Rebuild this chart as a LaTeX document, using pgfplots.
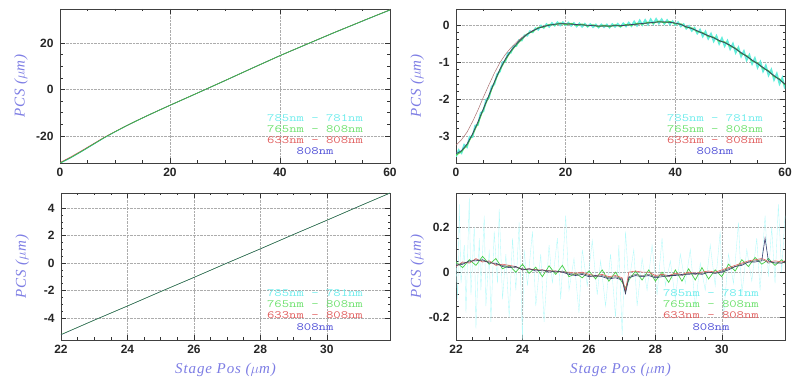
\documentclass[border=0pt]{standalone}
\usepackage{fontspec}
\setmainfont{Liberation Serif}
\setsansfont{Liberation Sans}
\newfontfamily\labfont[LetterSpace=6]{Liberation Serif}
\usepackage{graphicx}
\usepackage{pgfplots}
\usepackage{pgfplotstable}
\pgfplotsset{compat=1.18}

\definecolor{ccyan}{RGB}{100,238,220}
\definecolor{ccyanl}{RGB}{180,250,250}
\definecolor{cgreen}{RGB}{70,205,70}
\definecolor{cred}{RGB}{225,95,95}
\definecolor{cblue}{RGB}{55,60,110}
\definecolor{lcyan}{RGB}{110,236,236}
\definecolor{lgreen}{RGB}{110,225,110}
\definecolor{lred}{RGB}{225,95,95}
\definecolor{lblue}{RGB}{80,80,215}
\definecolor{labcol}{RGB}{125,125,228}

% top-left: x, cyan, green, red, blue
\pgfplotstableread{
x c g r b
0 -31.80 -31.64 -31.40 -31.60
2 -29.35 -29.21 -28.90 -29.20
4 -26.60 -26.48 -26.20 -26.45
6 -23.75 -23.62 -23.40 -23.60
8 -20.85 -20.76 -20.60 -20.75
10 -18.25 -18.16 -18.10 -18.16
12 -15.75 -15.70 -15.68 -15.70
14 -13.40 -13.36 -13.35 -13.36
16 -11.15 -11.11 -11.10 -11.11
18 -8.95 -8.93 -8.93 -8.93
20 -6.80 -6.79 -6.79 -6.79
25 -1.55 -1.51 -1.51 -1.51
30 3.80 3.82 3.82 3.82
35 9.25 9.22 9.22 9.22
40 14.55 14.55 14.55 14.55
42 16.55 16.58 16.58 16.58
45 19.55 19.60 19.60 19.60
48 22.55 22.61 22.61 22.61
50 24.55 24.61 24.61 24.61
52 26.48 26.54 26.54 26.54
54 28.40 28.47 28.47 28.47
56 30.35 30.41 30.41 30.41
58 32.25 32.31 32.31 32.31
60 34.10 34.22 34.22 34.22
}\tlTable

% top-right: x, blue(main), green, red
\pgfplotstableread{
x b g r
0 -3.48 -3.52 -3.25
1 -3.40 -3.42 -3.10
2 -3.22 -3.25 -2.90
3 -2.95 -2.97 -2.62
4 -2.62 -2.66 -2.30
5 -2.26 -2.28 -1.95
6 -1.90 -1.93 -1.62
7 -1.54 -1.56 -1.30
8 -1.20 -1.22 -1.02
9 -0.92 -0.95 -0.80
10 -0.70 -0.72 -0.62
11 -0.52 -0.54 -0.47
12 -0.37 -0.39 -0.34
13 -0.25 -0.24 -0.24
14 -0.16 -0.18 -0.15
15 -0.09 -0.07 -0.08
16 -0.04 -0.06 -0.03
17 -0.01 0.01 0.00
18 0.02 0.00 0.02
19 0.03 0.05 0.03
20 0.03 0.01 0.03
21 0.02 0.04 0.02
22 0.01 -0.01 0.01
23 0.00 0.02 0.00
24 -0.01 -0.03 -0.01
25 -0.02 0.00 -0.02
26 -0.03 -0.05 -0.03
27 -0.03 -0.01 -0.03
28 -0.03 -0.05 -0.03
29 -0.02 0.00 -0.02
30 -0.02 -0.04 -0.02
31 -0.01 0.01 -0.01
32 0.01 -0.01 0.01
33 0.02 0.04 0.02
34 0.04 0.02 0.04
35 0.05 0.07 0.05
36 0.07 0.05 0.07
37 0.08 0.10 0.08
38 0.08 0.06 0.08
39 0.07 0.09 0.07
40 0.05 0.03 0.05
41 0.01 0.03 0.01
42 -0.05 -0.07 -0.05
43 -0.10 -0.08 -0.10
44 -0.16 -0.18 -0.16
45 -0.23 -0.21 -0.23
46 -0.29 -0.31 -0.29
47 -0.35 -0.33 -0.35
48 -0.42 -0.44 -0.42
49 -0.48 -0.46 -0.48
50 -0.55 -0.57 -0.55
51 -0.65 -0.63 -0.65
52 -0.75 -0.77 -0.75
53 -0.85 -0.83 -0.85
54 -0.95 -0.97 -0.95
55 -1.05 -1.03 -1.05
56 -1.15 -1.17 -1.15
57 -1.26 -1.24 -1.26
58 -1.37 -1.39 -1.37
59 -1.48 -1.46 -1.48
60 -1.60 -1.62 -1.60
}\trTable

% top-right cyan
\pgfplotstableread{
x c
0 -3.56
0.5 -3.38
1 -3.46
1.5 -3.24
2 -3.30
2.5 -3.02
3 -3.03
3.5 -2.72
4 -2.70
4.5 -2.38
5 -2.33
5.5 -2.02
6 -1.97
6.5 -1.67
7 -1.60
7.5 -1.33
8 -1.26
8.5 -1.01
9 -0.98
9.5 -0.76
10 -0.75
10.5 -0.57
11 -0.57
11.5 -0.41
12 -0.42
12.5 -0.28
13 -0.29
13.5 -0.17
14 -0.20
14.5 -0.09
15 -0.13
15.5 -0.02
16 -0.08
16.5 0.02
17 -0.05
17.5 0.05
18 -0.02
18.5 0.07
19 -0.01
19.5 0.07
20 -0.01
20.5 0.06
21 -0.02
21.5 0.05
22 -0.04
22.5 0.04
23 -0.05
23.5 0.03
24 -0.05
24.5 0.02
25 -0.06
25.5 0.01
26 -0.07
26.5 0.01
27 -0.06
27.5 0.01
28 -0.07
28.5 0.02
29 -0.05
29.5 0.03
30 -0.05
30.5 0.04
31 -0.04
31.5 0.06
32 -0.03
32.5 0.09
33 -0.02
33.5 0.12
34 0.00
34.5 0.13
35 0.01
35.5 0.15
36 0.03
36.5 0.16
37 0.04
37.5 0.15
38 0.03
38.5 0.13
39 0.02
39.5 0.10
40 0.00
40.5 0.07
41 -0.04
41.5 0.02
42 -0.10
42.5 -0.03
43 -0.16
43.5 -0.08
44 -0.23
44.5 -0.13
45 -0.31
45.5 -0.18
46 -0.37
46.5 -0.24
47 -0.44
47.5 -0.30
48 -0.51
48.5 -0.36
49 -0.57
49.5 -0.43
50 -0.65
50.5 -0.51
51 -0.75
51.5 -0.61
52 -0.85
52.5 -0.71
53 -0.95
53.5 -0.81
54 -1.05
54.5 -0.90
55 -1.15
55.5 -1.00
56 -1.25
56.5 -1.10
57 -1.36
57.5 -1.21
58 -1.48
58.5 -1.32
59 -1.59
59.5 -1.43
60 -1.72
}\trCyan

% bottom-left
\pgfplotstableread{
x g b
22 -5.20 -5.22
23 -4.16 -4.15
24 -3.12 -3.13
25 -2.08 -2.07
26 -1.04 -1.05
27 0.00 0.01
28 1.04 1.03
29 2.08 2.09
30 3.12 3.11
31 4.16 4.17
31.9 5.10 5.09
}\blTable

% bottom-right: x, main, green, red, blue
\pgfplotstableread{
x m g r b
22.0 0.030 0.045 0.025 0.030
22.2 0.040 0.020 0.045 0.035
22.4 0.045 0.055 0.040 0.050
22.6 0.055 0.030 0.060 0.050
22.8 0.050 0.070 0.045 0.055
23.0 0.045 0.035 0.050 0.040
23.2 0.035 0.060 0.030 0.040
23.4 0.030 0.015 0.035 0.025
23.6 0.025 0.030 0.030 0.020
23.8 0.020 0.000 0.025 0.025
24.0 0.015 0.035 0.010 0.010
24.2 0.010 -0.005 0.015 0.015
24.4 0.012 0.022 0.010 0.005
24.6 0.005 -0.020 0.010 0.010
24.8 0.008 0.028 0.005 0.000
25.0 0.000 -0.010 0.005 0.005
25.2 0.005 0.030 0.000 0.000
25.4 -0.005 -0.020 0.000 -0.010
25.6 -0.010 -0.005 -0.005 -0.015
25.8 -0.005 -0.025 0.000 -0.010
26.0 -0.015 0.005 -0.010 -0.020
26.2 -0.020 -0.030 -0.015 -0.015
26.4 -0.015 0.010 -0.010 -0.020
26.6 -0.025 -0.040 -0.020 -0.030
26.8 -0.020 0.000 -0.015 -0.025
27.0 -0.030 -0.045 -0.025 -0.035
27.1 -0.090 -0.070 -0.080 -0.095
27.2 -0.020 -0.035 0.000 -0.025
27.4 -0.010 0.005 0.005 -0.015
27.6 -0.015 -0.035 0.000 -0.020
27.8 -0.010 0.010 0.000 -0.015
28.0 -0.020 -0.040 -0.015 -0.025
28.2 -0.015 0.000 -0.010 -0.020
28.4 -0.020 -0.045 -0.015 -0.015
28.6 -0.010 0.010 -0.005 -0.015
28.8 -0.015 -0.040 -0.010 -0.010
29.0 -0.005 0.015 0.000 -0.010
29.2 -0.010 -0.035 -0.005 -0.005
29.4 -0.005 0.020 0.000 -0.010
29.6 0.000 -0.030 0.005 0.000
29.8 -0.005 0.010 0.000 -0.005
30.0 0.005 -0.020 0.010 0.000
30.2 0.015 0.035 0.020 0.010
30.4 0.025 0.005 0.030 0.025
30.6 0.035 0.055 0.040 0.030
30.8 0.045 0.025 0.050 0.045
31.0 0.050 0.065 0.055 0.045
31.2 0.055 0.035 0.060 0.050
31.3 0.050 0.045 0.055 0.150
31.4 0.040 0.060 0.045 0.050
31.6 0.045 0.030 0.050 0.040
31.8 0.040 0.055 0.045 0.040
31.9 0.045 0.040 0.050 0.045
}\brTable

\pgfplotstableread{
x c
22.00 0.05
22.05 -0.12
22.10 0.30
22.15 -0.05
22.25 0.12
22.30 -0.18
22.40 0.33
22.45 -0.10
22.55 0.20
22.60 -0.25
22.70 0.15
22.75 -0.08
22.85 0.25
22.90 -0.15
23.00 0.10
23.05 -0.22
23.15 0.18
23.25 -0.05
23.30 0.28
23.40 -0.12
23.50 0.08
23.60 -0.20
23.70 0.15
23.80 -0.08
23.90 0.22
24.00 -0.30
24.05 0.10
24.15 -0.06
24.30 0.18
24.40 -0.15
24.55 0.08
24.65 -0.22
24.80 0.12
24.90 -0.05
25.05 0.15
25.15 -0.12
25.30 0.25
25.40 -0.08
25.55 0.06
25.70 -0.18
25.80 0.10
25.95 -0.06
26.10 0.14
26.25 -0.10
26.35 0.05
26.50 -0.15
26.65 0.08
26.80 -0.20
26.90 0.12
27.00 -0.28
27.10 0.18
27.20 -0.05
27.35 0.10
27.45 -0.15
27.60 0.06
27.75 -0.08
27.90 0.12
28.05 -0.10
28.20 0.15
28.30 -0.06
28.45 0.05
28.60 -0.12
28.75 0.08
28.90 -0.05
29.05 0.10
29.20 -0.15
29.35 0.04
29.50 -0.08
29.65 0.12
29.80 -0.06
29.95 0.18
30.05 -0.20
30.20 0.08
30.35 -0.05
30.50 0.22
30.60 -0.10
30.75 0.10
30.90 -0.04
31.05 0.15
31.15 -0.08
31.30 0.25
31.40 -0.02
31.50 0.20
31.60 -0.05
31.70 0.30
31.80 0.00
31.90 0.25
}\brCyan

\tikzset{legtext/.style={font=\ttfamily\fontsize{11}{11.2}\selectfont, align=center, inner sep=0pt, anchor=south}}

\pgfplotsset{
  pcs/.style={
    scale only axis,
    axis line style={black!75, line width=0.9pt},
    tick style={black!80, line width=0.6pt},
    tick align=inside,
    major tick length=5pt,
    minor tick length=2.5pt,
    grid=major,
    major grid style={gray!65, densely dotted, line width=0.5pt},
    ticklabel style={font=\sffamily\bfseries\fontsize{12}{12}\selectfont, black!85},
    /pgf/number format/assume math mode=true,
    xticklabel style={yshift=-2pt},
    yticklabel style={xshift=-3pt},
    ylabel={\labfont\itshape PCS ($\mu$m)},
    ylabel style={at={(axis description cs:-0.118,0.5)}, anchor=center, rotate=0, font=\fontsize{15}{15}\selectfont, text=labcol},
    xlabel style={at={(axis description cs:0.5,-0.2)}, anchor=center, font=\fontsize{15}{15}\selectfont, text=labcol},
  },
}

\newcommand{\legendblock}{%
  \scalebox{1.3}[1]{\textcolor{lcyan}{785nm - 781nm}}\\
  \scalebox{1.3}[1]{\textcolor{lgreen}{765nm - 808nm}}\\
  \scalebox{1.3}[1]{\textcolor{lred}{633nm - 808nm}}\\
  \scalebox{1.3}[1]{\textcolor{lblue}{808nm}}}

\begin{document}
\begin{tikzpicture}
\path[use as bounding box] (0,0) rectangle (792pt,385pt);

% top-left
\begin{axis}[pcs, at={(60pt,222pt)}, anchor=south west,
  width=330pt, height=154pt,
  xmin=0, xmax=60, ymin=-31.6, ymax=34.6,
  xtick={0,20,40,60}, minor x tick num=3,
  ytick={-20,0,20}, minor y tick num=3]
\addplot[ccyan, line width=0.8pt] table[x=x,y=c] {\tlTable};
\addplot[cred, line width=0.5pt] table[x=x,y=r] {\tlTable};
\addplot[cblue, line width=0.6pt] table[x=x,y=b] {\tlTable};
\addplot[cgreen, line width=0.6pt] table[x=x,y=g] {\tlTable};
\node[legtext] at (rel axis cs:0.773,0.05) {\legendblock};
\end{axis}

% top-right
\begin{axis}[pcs, at={(456pt,222pt)}, anchor=south west,
  width=329pt, height=154pt,
  xmin=0, xmax=60, ymin=-3.73, ymax=0.43,
  xtick={0,20,40,60}, minor x tick num=3,
  ytick={-3,-2,-1,0}, minor y tick num=4]
\addplot[ccyan, line width=1.8pt] table[x=x,y=c] {\trCyan};
\addplot[cred!45!gray, line width=0.5pt] table[x=x,y=r] {\trTable};
\addplot[cgreen, line width=1.1pt] table[x=x,y=g] {\trTable};
\addplot[cblue, line width=0.7pt] table[x=x,y=b] {\trTable};
\node[legtext] at (rel axis cs:0.787,0.05) {\legendblock};
\end{axis}

% bottom-left
\begin{axis}[pcs, at={(61pt,45pt)}, anchor=south west,
  width=329pt, height=147pt,
  xmin=22, xmax=31.9, ymin=-5.6, ymax=5.1,
  xtick={22,24,26,28,30}, minor x tick num=3,
  ytick={-4,-2,0,2,4}, minor y tick num=3,
  xlabel={\labfont\itshape Stage Pos ($\mu$m)}]
\addplot[cgreen, line width=0.6pt] table[x=x,y=g] {\blTable};
\addplot[cblue, line width=0.4pt] table[x=x,y=b] {\blTable};
\node[legtext] at (rel axis cs:0.772,0.065) {\legendblock};
\end{axis}

% bottom-right
\begin{axis}[pcs, at={(456pt,45pt)}, anchor=south west,
  width=329pt, height=147pt,
  xmin=22, xmax=31.9, ymin=-0.30, ymax=0.35,
  xtick={22,24,26,28,30}, minor x tick num=3,
  ytick={-0.2,0,0.2}, minor y tick num=3,
  yticklabel style={/pgf/number format/fixed, /pgf/number format/precision=1},
  xlabel={\labfont\itshape Stage Pos ($\mu$m)}]
\addplot[ccyanl, line width=0.35pt] table[x=x,y=c] {\brCyan};
\addplot[cgreen, line width=0.7pt] table[x=x,y=g] {\brTable};
\addplot[cred, line width=0.6pt] table[x=x,y=r] {\brTable};
\addplot[cblue, line width=0.6pt] table[x=x,y=b] {\brTable};
\addplot[black!70, line width=0.4pt] table[x=x,y=m] {\brTable};
\node[legtext] at (rel axis cs:0.775,0.065) {\legendblock};
\end{axis}
\end{tikzpicture}
\end{document}
